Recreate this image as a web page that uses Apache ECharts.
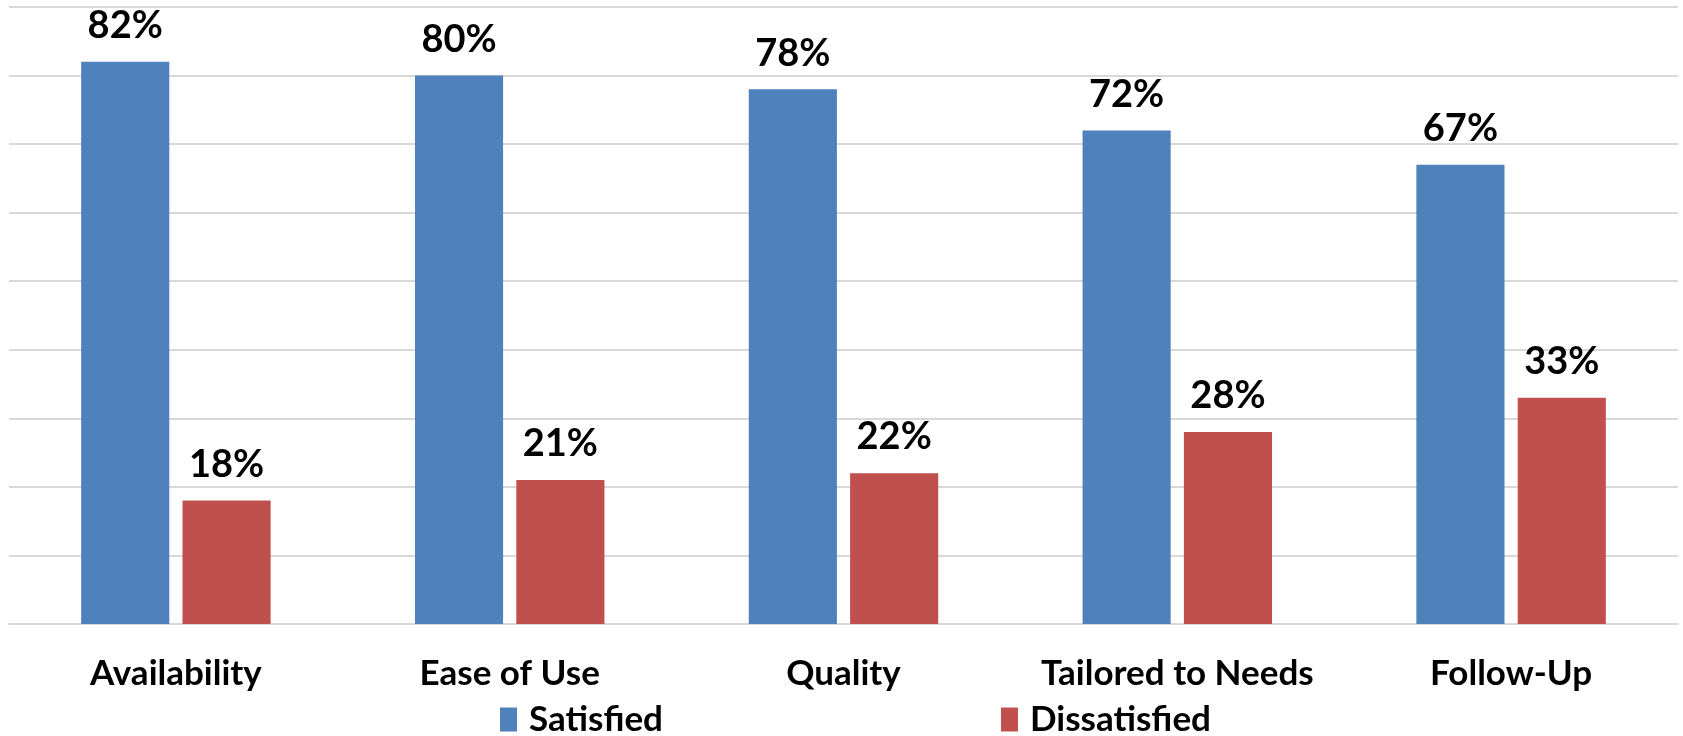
<!DOCTYPE html>
<html><head><meta charset="utf-8">
<script src="https://cdn.jsdelivr.net/npm/echarts@6/dist/echarts.min.js"></script>
<style>html,body{margin:0;padding:0;background:#fff}#c{width:1683px;height:736px}</style>
</head><body><div id="c"></div>
<script>
const categories = ['Availability', 'Ease of Use', 'Quality', 'Tailored to Needs', 'Follow-Up'];
const satisfied = [82, 80, 78, 72, 67];
const dissatisfied = [18, 21, 22, 28, 33];
const seriesNames = ['Satisfied', 'Dissatisfied'];

const FONT = 'Lato';
const chart = echarts.init(document.getElementById('c'));
const labelStyle = {
  show: true, position: 'top', distance: 17,
  formatter: p => p.value + '%',
  color: '#000', fontFamily: FONT, fontWeight: 'bold', fontSize: 38
};
chart.setOption({
  animation: false,
  grid: { left: 9, right: 5, top: 7, bottom: 112 },
  legend: {
    bottom: -6, left: 495,
    itemWidth: 17, itemHeight: 24, itemGap: 338,
    icon: 'rect',
    textStyle: { fontFamily: FONT, fontWeight: 'bold', fontSize: 35, color: '#000', padding: [0, 0, 0, 7] },
    data: seriesNames
  },
  xAxis: {
    type: 'category', data: categories,
    axisLine: { lineStyle: { color: '#d9d9d9', width: 2 } },
    axisTick: { show: false },
    axisLabel: { interval: 0, hideOverlap: false, margin: 32, fontFamily: FONT, fontWeight: 'bold', fontSize: 35, color: '#000' }
  },
  yAxis: {
    type: 'value', min: 0, max: 90, interval: 10,
    axisLabel: { show: false }, axisLine: { show: false }, axisTick: { show: false },
    splitLine: { lineStyle: { color: '#d9d9d9', width: 2 } }
  },
  series: [
    { name: seriesNames[0], type: 'bar', data: satisfied, barWidth: '26.4%', barGap: '15%',
      itemStyle: { color: '#4F81BD' }, label: labelStyle },
    { name: seriesNames[1], type: 'bar', data: dissatisfied, barWidth: '26.4%',
      itemStyle: { color: '#C0504D' }, label: labelStyle }
  ]
});
</script></body></html>
